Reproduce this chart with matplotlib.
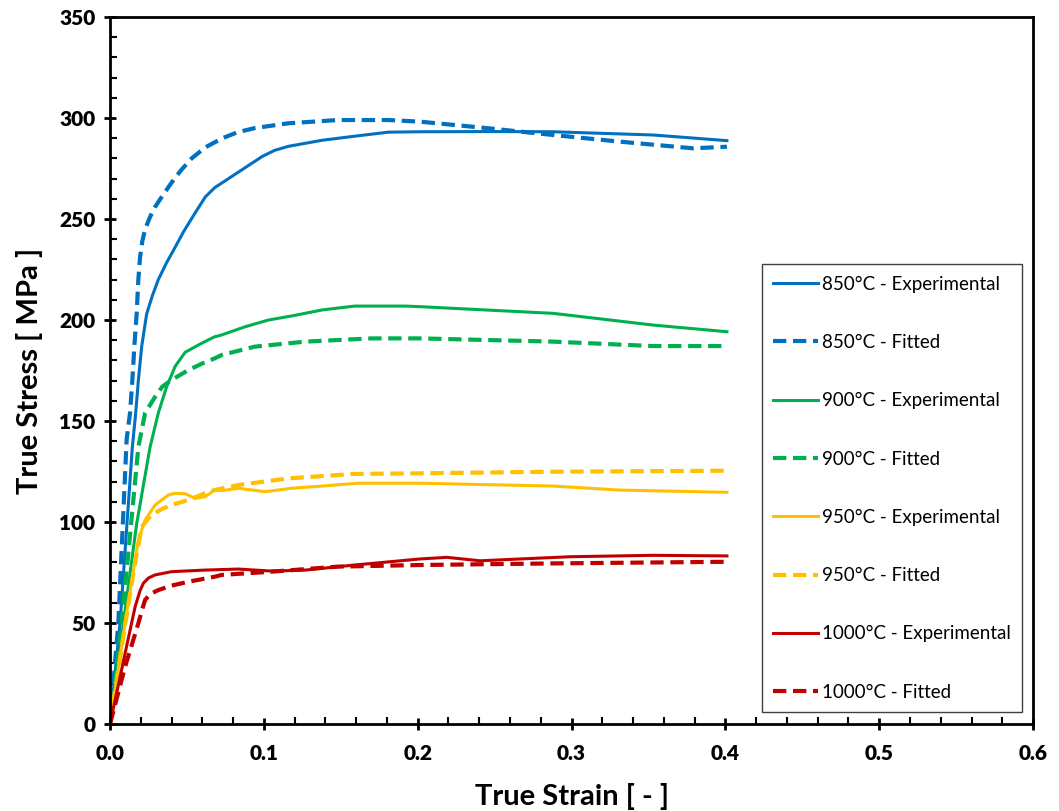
import numpy as np
import matplotlib.pyplot as plt
from matplotlib.ticker import MultipleLocator

plt.rcParams['font.family'] = ['Lato', 'DejaVu Sans']

# 850 C
e850_x = [0, 0.0065, 0.0145, 0.0167, 0.0184, 0.0206, 0.0238, 0.0275, 0.0314, 0.0365, 0.0423,
          0.0480, 0.0553, 0.062, 0.068, 0.075, 0.083, 0.091, 0.099, 0.107, 0.116, 0.138,
          0.159, 0.181, 0.2015, 0.25, 0.288, 0.353, 0.401]
e850_y = [0, 50, 137, 154, 170, 187, 203, 212, 220, 228, 236,
          244, 253, 261, 265.5, 269, 273, 277, 281, 284, 286, 289,
          291, 293, 293.2, 293.3, 293.2, 291.6, 288.8]
f850_x = [0, 0.0054, 0.0108, 0.0130, 0.0145, 0.0158, 0.0173, 0.0184, 0.0195, 0.0210, 0.0228,
          0.0260, 0.0293, 0.0345, 0.040, 0.046, 0.053, 0.062, 0.073, 0.083, 0.094, 0.116,
          0.148, 0.181, 0.2015, 0.245, 0.288, 0.3315, 0.379, 0.401]
f850_y = [0, 50, 141, 154, 170, 187, 203, 220, 231, 239, 245,
          251, 256, 262, 268, 274, 280, 285.5, 290, 293, 295, 297.4,
          299, 299, 298.2, 295, 291.6, 288.3, 285, 285.8]

# 900 C
e900_x = [0, 0.0087, 0.0173, 0.026, 0.0314, 0.0368, 0.0423, 0.0488, 0.0596, 0.068, 0.0726,
          0.088, 0.103, 0.118, 0.138, 0.159, 0.192, 0.2015, 0.288, 0.353, 0.401]
e900_y = [0, 50, 99, 137, 154, 167, 177, 184, 188.5, 191.7, 192.6,
          196.7, 200, 202, 205, 206.9, 206.9, 206.6, 203.3, 197.5, 194.2]
f900_x = [0, 0.0076, 0.0184, 0.0228, 0.0293, 0.034, 0.040, 0.0509, 0.060, 0.068, 0.0726,
          0.094, 0.127, 0.170, 0.2015, 0.288, 0.353, 0.401]
f900_y = [0, 50, 137, 154, 162, 167, 170.3, 175.2, 178.5, 181, 182.7,
          186.8, 189.3, 190.9, 190.9, 189.3, 187.1, 187.1]

# 950 C
e950_x = [0, 0.0098, 0.0184, 0.0228, 0.0293, 0.038, 0.0423, 0.0488, 0.0553, 0.0618, 0.068,
          0.0726, 0.0834, 0.1008, 0.118, 0.138, 0.161, 0.2015, 0.288, 0.3315, 0.401]
e950_y = [0, 50, 91, 101, 108.4, 113.4, 114.2, 114, 111.7, 112.5, 115.8,
          115.5, 116.7, 115, 116.7, 117.8, 119.2, 119.2, 117.8, 115.8, 114.7]
f950_x = [0, 0.0098, 0.0163, 0.0206, 0.027, 0.034, 0.040, 0.0509, 0.0618, 0.068, 0.0834,
          0.116, 0.159, 0.2015, 0.288, 0.401]
f950_y = [0, 49, 80, 97.7, 103.5, 106.5, 108.4, 110.9, 114.2, 115.8, 118.3,
          121.6, 123.8, 124.1, 124.9, 125.4]

# 1000 C
e1000_x = [0, 0.0098, 0.0163, 0.0195, 0.0217, 0.025, 0.0293, 0.040, 0.0618, 0.0834, 0.105,
           0.127, 0.159, 0.2015, 0.219, 0.2405, 0.299, 0.353, 0.401]
e1000_y = [0, 35, 58, 66, 69.7, 72.3, 73.8, 75.4, 76.2, 76.7, 75.7,
           76.2, 78.7, 81.7, 82.5, 80.8, 82.8, 83.5, 83.2]
f1000_x = [0, 0.0098, 0.0184, 0.0210, 0.0228, 0.026, 0.0314, 0.040, 0.0509, 0.068, 0.0726,
           0.105, 0.148, 0.2015, 0.288, 0.401]
f1000_y = [0, 28.4, 49.8, 57, 61.4, 64.3, 66.3, 68.5, 70.4, 72.9, 73.8,
           75.4, 77.9, 78.7, 79.5, 80.3]

temps = ['850', '900', '950', '1000']
colors = ['#0070C0', '#00B050', '#FFC000', '#C00000']
exp_data = [(e850_x, e850_y), (e900_x, e900_y), (e950_x, e950_y), (e1000_x, e1000_y)]
fit_data = [(f850_x, f850_y), (f900_x, f900_y), (f950_x, f950_y), (f1000_x, f1000_y)]

fig = plt.figure(figsize=(10.59, 8.11), dpi=100)
ax = fig.add_axes([0.1039, 0.1073, 0.8716, 0.8717])

for t, c, (ex, ey), (fx, fy) in zip(temps, colors, exp_data, fit_data):
    ax.plot(ex, ey, color=c, lw=2.2, label=t + '°C - Experimental', solid_joinstyle='round')
    ax.plot(fx, fy, color=c, lw=3.0, dashes=(3.2, 1.6), label=t + '°C - Fitted')

ax.set_xlim(0, 0.6)
ax.set_ylim(0, 350)
ax.xaxis.set_minor_locator(MultipleLocator(0.02))
ax.yaxis.set_major_locator(MultipleLocator(50))
ax.yaxis.set_minor_locator(MultipleLocator(10))
ax.set_xticks(np.arange(0, 0.61, 0.1))
ax.set_xticklabels([f'{v:.1f}' for v in np.arange(0, 0.61, 0.1)])

ax.tick_params(which='major', direction='inout', length=9, width=2, labelsize=15, pad=6)
ax.tick_params(axis='x', which='major', pad=10)
ax.tick_params(which='minor', direction='in', length=5, width=1.5)
for lab in ax.get_xticklabels() + ax.get_yticklabels():
    lab.set_fontweight('heavy')

for s in ax.spines.values():
    s.set_linewidth(2)
    s.set_color('black')

ax.set_xlabel('True Strain [ - ]', fontsize=21, fontweight='bold', labelpad=14)
ax.set_ylabel('True Stress [ MPa ]', fontsize=21, fontweight='bold', labelpad=12)

leg = ax.legend(loc='lower left', bbox_to_anchor=(0.706, 0.017), borderaxespad=0,
                fontsize=13.5, labelspacing=2.2, handlelength=2.4, handletextpad=0.2,
                fancybox=False, framealpha=1, borderpad=0.6)
leg.get_frame().set_edgecolor('#404040')
leg.get_frame().set_linewidth(1)

fig.savefig('out.png', dpi=100)
